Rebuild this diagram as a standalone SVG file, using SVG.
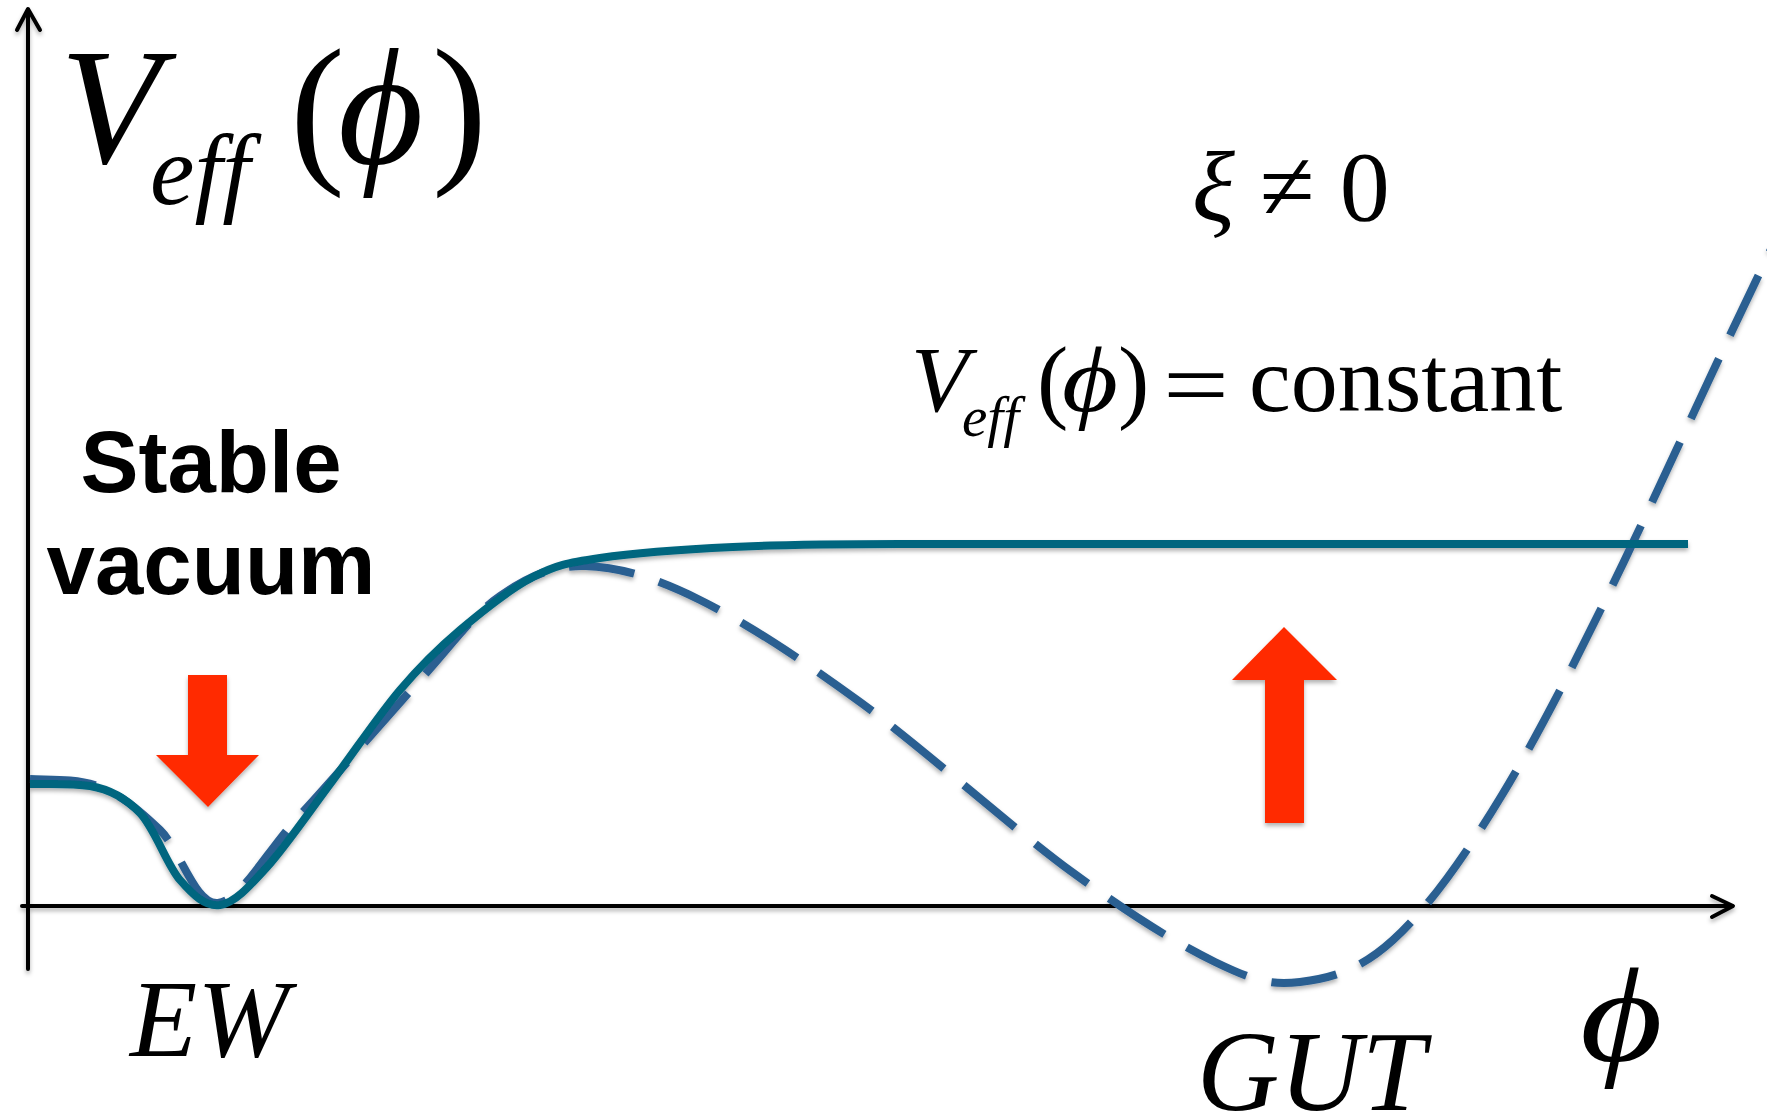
<svg xmlns="http://www.w3.org/2000/svg" width="1767" height="1118" viewBox="0 0 1767 1118">
<style>
.serif{font-family:"Liberation Serif","Times New Roman",serif;fill:#000}
.it{font-style:italic}
.bold{font-family:"Liberation Sans",Arial,sans-serif;font-weight:bold;fill:#000}
.axis{fill:none;stroke:#000;stroke-width:4;stroke-linecap:round;stroke-linejoin:round}
.solid{fill:none;stroke:#00667F;stroke-width:8}
.dash{fill:none;stroke:#2A5E91;stroke-width:8;stroke-dasharray:66 26}
.red{fill:#FF2A00}
</style>
<defs>
<filter id="sh" x="-10%" y="-10%" width="120%" height="130%">
<feDropShadow dx="0" dy="3" stdDeviation="2" flood-color="#000" flood-opacity="0.3"/>
</filter>
</defs>
<rect width="1767" height="1118" fill="#fff"/>
<g id="connectors" filter="url(#sh)">
<g id="axes">
<line class="axis" x1="28" y1="969" x2="28" y2="10"/>
<polyline class="axis" points="17,30 28,9 40,30"/>
<line class="axis" x1="22" y1="906" x2="1732" y2="906"/>
<polyline class="axis" points="1712,896 1733,906 1712,917"/>
</g>
<path id="dashed-curve" class="dash" d="M30,779 C53,780 78,778.5 100,787 C122,795.5 140,810.7 160,830 C180,849 195,905.5 218,903 C241,900.5 266,852 300,815 C334,778 387,716.5 420,680 C453,643.5 472.5,615 500,596 C527.5,577 551.7,565.3 585,566 C618.3,566.7 654.2,577.3 700,600 C745.8,622.7 798,656.7 860,702 C922,747.3 1012.8,828.7 1072,872 C1131.2,915.3 1177,943.7 1215,962 C1253,980.3 1270.3,985.7 1300,982 C1329.7,978.3 1358.8,971.2 1393,940 C1427.2,908.8 1462,861 1502,795 C1542,729 1586,641 1628,553 C1670,465 1720,354 1767,258 L1771,249"/>
<path id="solid-curve" class="solid" d="M30,784 C50,784 71.7,783 90,786 C108.3,789 125,797.3 140,813 C155,828.7 166.7,864.7 180,880 C193.3,895.3 205.5,907.2 220,905 C234.5,902.8 248.2,887.8 267,867 C285.8,846.2 310.8,809.5 333,780 C355.2,750.5 378.8,715 400,690 C421.2,665 437.8,648.8 460,630 C482.2,611.2 509.7,589 533,577 C556.3,565 566.7,563 600,558 C633.3,553 683,549.3 733,547 C783,544.7 845,544 900,544 L1688,544"/>
</g>
<g id="arrow-down" filter="url(#sh)">
<polygon class="red" points="188,675 227,675 227,755 259,755 208,807 156,755 188,755"/>
</g>
<g id="arrow-up" filter="url(#sh)">
<polygon class="red" points="1265,823 1304,823 1304,680 1337,680 1284,627 1232,680 1265,680"/>
</g>
<g id="label-veff">
<text class="serif it" x="60" y="163" font-size="165">V</text>
<text class="serif it" x="150" y="204" font-size="100">eff</text>
<text class="serif" x="290" y="163" font-size="165">(</text>
<text class="serif it" x="338" y="163" font-size="165">ϕ</text>
<text class="serif" x="432" y="163" font-size="165">)</text>
</g>
<g id="label-xi">
<text class="serif" x="1192" y="220" font-size="100"><tspan class="it">ξ</tspan> ≠ 0</text>
</g>
<g id="label-constant">
<text class="serif it" x="911" y="411" font-size="94">V</text>
<text class="serif it" x="962" y="436" font-size="57">eff</text>
<text class="serif" x="1037" y="411" font-size="94">(</text>
<text class="serif it" x="1062" y="411" font-size="94" transform="translate(1062 0) scale(1.15 1) translate(-1062 0)">ϕ</text>
<text class="serif" x="1118" y="411" font-size="94">)</text>
<text class="serif" x="1163" y="416" font-size="94" textLength="66" lengthAdjust="spacingAndGlyphs">=</text>
<text class="serif" x="1249" y="411" font-size="94">constant</text>
</g>
<g id="label-stable">
<text class="bold" x="211" y="492" font-size="87" text-anchor="middle">Stable</text>
<text class="bold" x="211" y="594" font-size="87" text-anchor="middle">vacuum</text>
</g>
<g id="label-ew"><text class="serif it" x="130" y="1056" font-size="110">EW</text></g>
<g id="label-gut"><text class="serif it" x="1197" y="1110" font-size="114">GUT</text></g>
<g id="label-phi"><text class="serif it" x="1580" y="1061" font-size="133" transform="translate(1580 0) scale(1.2 1) translate(-1580 0)">ϕ</text></g>
</svg>
